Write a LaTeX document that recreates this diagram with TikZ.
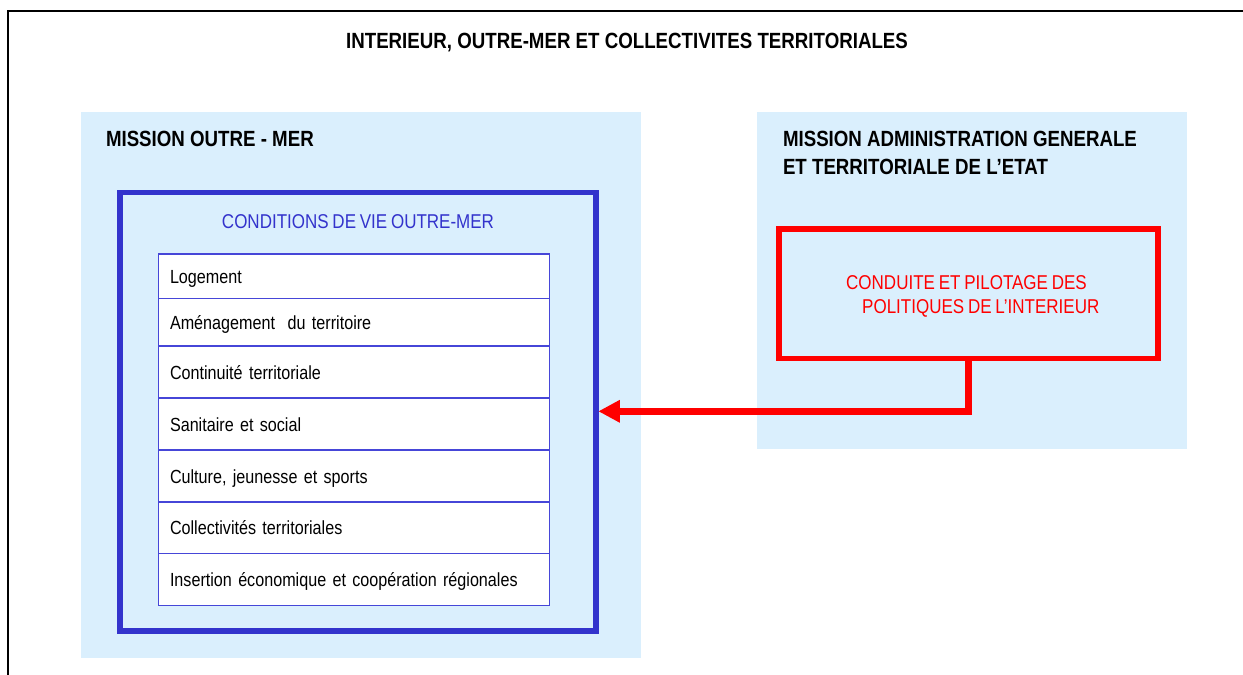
\documentclass[tikz,border=0pt]{standalone}
\usepackage{fontspec}
\setmainfont{Liberation Sans}[FakeStretch=0.85]
\newfontfamily\listfont{Liberation Sans}[FakeStretch=0.85, WordSpace=0.8]
\usetikzlibrary{arrows.meta}
\definecolor{paleblue}{HTML}{DAEFFD}
\definecolor{frameblue}{HTML}{3333CC}
\definecolor{lineblue}{HTML}{4646D8}
\definecolor{pilotred}{HTML}{FF0000}
\begin{document}
\begin{tikzpicture}[x=1pt,y=-1pt,
  heading/.style={font=\fontsize{22}{27.5}\selectfont\bfseries, inner sep=0pt, outer sep=0pt, anchor=base west},
  panel/.style={fill=paleblue, draw=none, inner sep=0pt, outer sep=0pt, anchor=north west},
  bluebox/.style={draw=frameblue, line width=5.5pt, inner sep=0pt, outer sep=0pt, anchor=north west},
  redbox/.style={draw=pilotred, line width=5.5pt, inner sep=0pt, outer sep=0pt, anchor=north west},
  listrow/.style={draw=lineblue, fill=white, line width=1.5pt, anchor=north west, outer sep=0pt,
    inner xsep=11.7pt, inner ysep=0pt, text width=367.6pt, align=left,
    text height=14pt, text depth=0pt, font=\listfont\fontsize{19}{23}\selectfont},
  bluetext/.style={font=\listfont\fontsize{20}{24}\selectfont, text=frameblue, inner sep=0pt, anchor=base},
  redtext/.style={font=\listfont\fontsize{20}{24}\selectfont, text=pilotred, inner sep=0pt, anchor=base west},
  flow/.style={draw=pilotred, line width=7.3pt, line join=miter, -{Triangle[length=21.6pt,width=21.3pt]}}
]
\clip (0,0) rectangle (1243,675);
\fill[white] (0,0) rectangle (1243,675);
\draw[line width=2.5pt] (8,11) rectangle (1400,900);

\node[heading, anchor=base] (title) at (627,48) {INTERIEUR, OUTRE-MER ET COLLECTIVITES TERRITORIALES};

% left mission
\node[panel, minimum width=560pt, minimum height=545.4pt] (omer) at (81,112.3) {};
\node[heading] (omertitle) at (106,146.7) {MISSION OUTRE - MER};
\node[bluebox, minimum width=476pt, minimum height=438.5pt] (cond) at (120,192.5) {};
\node[bluetext] (condtitle) at (358,228.3) {CONDITIONS DE VIE OUTRE-MER};

\node[listrow, minimum height=44.3pt] (r1) at (158.3,254) {Logement};
\node[listrow, minimum height=47.7pt] (r2) at (158.3,298.3) {Aménagement\ \ du territoire};
\node[listrow, minimum height=52pt] (r3) at (158.3,346) {Continuité territoriale};
\node[listrow, minimum height=52pt] (r4) at (158.3,398) {Sanitaire et social};
\node[listrow, minimum height=52pt] (r5) at (158.3,450) {Culture, jeunesse et sports};
\node[listrow, minimum height=51.3pt] (r6) at (158.3,502) {Collectivités territoriales};
\node[listrow, minimum height=52.4pt] (r7) at (158.3,553.3) {Insertion économique et coopération régionales};

% right mission
\node[panel, minimum width=429.7pt, minimum height=336.7pt] (agte) at (757,112.3) {};
\node[heading] (agte1) at (783,146.7) {MISSION ADMINISTRATION GENERALE};
\node[heading] (agte2) at (783,174.2) {ET TERRITORIALE DE L’ETAT};
\node[redbox, minimum width=379pt, minimum height=129.5pt] (pilot) at (779,229) {};
\node[redtext] (pilot1) at (846,289) {CONDUITE ET PILOTAGE DES};
\node[redtext] (pilot2) at (862,313.3) {POLITIQUES DE L’INTERIEUR};

\coordinate (tipc) at (598.3,411.3);
\draw[flow] (pilot.south) |- (tipc);
\end{tikzpicture}
\end{document}
